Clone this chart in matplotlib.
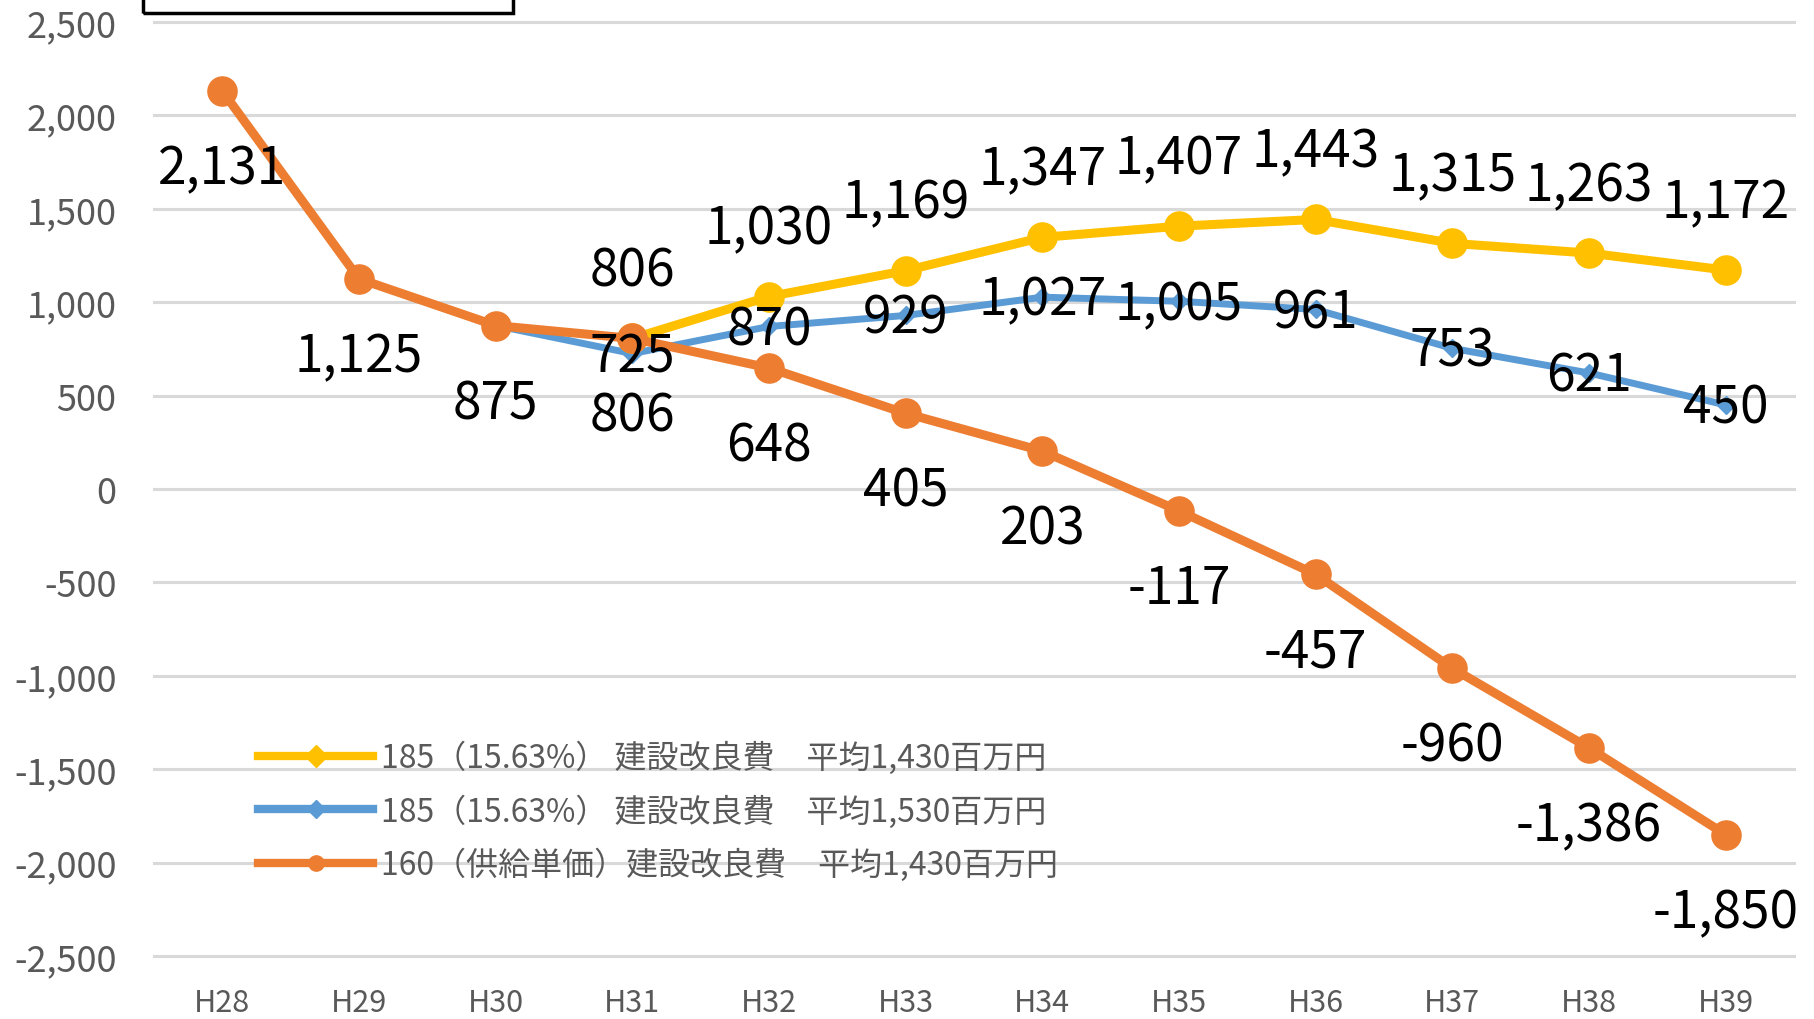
import matplotlib.pyplot as plt
from matplotlib.lines import Line2D
from matplotlib.patches import Rectangle

plt.rcParams['font.family'] = ['Noto Sans CJK JP', 'DejaVu Sans']

# ---- data -----------------------------------------------------------------
years = ["H28", "H29", "H30", "H31", "H32", "H33",
         "H34", "H35", "H36", "H37", "H38", "H39"]
yellow_vals = [None, None, None, 806, 1030, 1169, 1347, 1407, 1443, 1315, 1263, 1172]
blue_vals = [None, None, 875, 725, 870, 929, 1027, 1005, 961, 753, 621, 450]
blue_labelled = [False, False, False] + [True] * 9
orange_vals = [2131, 1125, 875, 806, 648, 405, 203, -117, -457, -960, -1386, -1850]

names = [
    "185（15.63%） 建設改良費　平均1,430百万円",
    "185（15.63%） 建設改良費　平均1,530百万円",
    "160（供給単価）建設改良費　平均1,430百万円",
]
yticks = [2500, 2000, 1500, 1000, 500, 0, -500, -1000, -1500, -2000, -2500]

YELLOW = "#FFC000"
BLUE = "#5B9BD5"
ORANGE = "#ED7D31"
GRAY = "#595959"

W, H, DPI = 1815, 1020, 100


def px(x0, y0, x1, y1):
    return [x0 / W, 1 - y1 / H, (x1 - x0) / W, (y1 - y0) / H]


def series(vals):
    xs = [i for i, v in enumerate(vals) if v is not None]
    ys = [v for v in vals if v is not None]
    return xs, ys


fig = plt.figure(figsize=(W / DPI, H / DPI), dpi=DPI)
ax = fig.add_axes(px(154, 23, 1794, 957))

bx, by = series(blue_vals)
ax.plot(bx, by, color=BLUE, lw=5, marker="D", ms=9, zorder=3)
yx, yy = series(yellow_vals)
ax.plot(yx, yy, color=YELLOW, lw=6.5, marker="o", ms=21, zorder=4)
ox, oy = series(orange_vals)
ax.plot(ox, oy, color=ORANGE, lw=6.5, marker="o", ms=21, zorder=5)

# data labels
lab_kw = dict(textcoords="offset points", ha="center", va="center",
              fontsize=37, color="black", zorder=6)
for x, v in zip(yx, yy):
    ax.annotate(f"{v:,}", (x, v), xytext=(0, 49), **lab_kw)
for x, v in zip(bx, by):
    if blue_labelled[x]:
        ax.annotate(f"{v:,}", (x, v), xytext=(0, -2), **lab_kw)
for x, v in zip(ox, oy):
    ax.annotate(f"{v:,}", (x, v), xytext=(0, -56), **lab_kw)

ax.set_xlim(-0.5, len(years) - 0.5)
ax.set_ylim(-2500, 2500)
ax.set_xticks(range(len(years)))
ax.set_xticklabels(years)
ax.set_yticks(yticks)
ax.set_yticklabels([f"{t:,}" for t in yticks])
ax.tick_params(axis="y", length=0, pad=27, labelsize=26, labelcolor=GRAY)
ax.tick_params(axis="x", length=0, pad=22, labelsize=22, labelcolor=GRAY)
for s in ax.spines.values():
    s.set_visible(False)
ax.yaxis.grid(True, color="#D9D9D9", lw=2.2)
ax.set_axisbelow(True)
for gl in ax.get_ygridlines():
    gl.set_clip_on(False)

# legend
handles = [
    Line2D([], [], color=YELLOW, lw=6, marker="D", ms=11),
    Line2D([], [], color=BLUE, lw=6, marker="D", ms=9),
    Line2D([], [], color=ORANGE, lw=6, marker="o", ms=11),
]
leg = ax.legend(handles, names, loc="upper left",
                bbox_to_anchor=(258 / W, 1 - 742 / H), bbox_transform=fig.transFigure,
                frameon=False, fontsize=23, labelcolor=GRAY,
                handlelength=3.6, handletextpad=0.25, labelspacing=0.62,
                borderpad=0, borderaxespad=0)

# cropped box at top-left
fig.patches.append(Rectangle((143 / W, 1 - 14 / H), (513 - 143) / W, 0.05,
                             transform=fig.transFigure, fill=False,
                             edgecolor="black", lw=2.5))

fig.savefig("out.png", dpi=DPI, facecolor="white")
